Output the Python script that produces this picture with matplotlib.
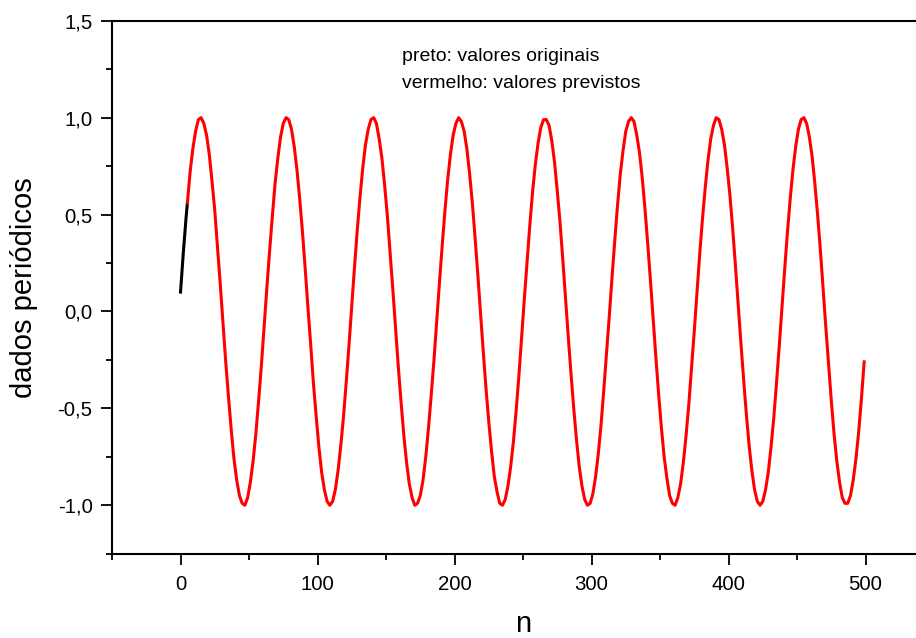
import numpy as np
import matplotlib
matplotlib.use('Agg')
import matplotlib.pyplot as plt
from matplotlib.ticker import MultipleLocator, FuncFormatter

plt.rcParams['font.family'] = ['Liberation Sans', 'DejaVu Sans']

# valores originais (preto)
n_orig = [0, 1, 2, 3, 4, 5]
y_orig = [0.10, 0.20, 0.30, 0.39, 0.48, 0.56]

# valores previstos (vermelho), lidos a cada 2 pontos de n
n_prev = list(range(5, 500, 2))
y_prev = [
    0.56, 0.72, 0.84, 0.93, 0.99, 1.00, 0.97, 0.91, 0.81, 0.67, 0.52, 0.33, 0.14, -0.06, -0.26,
    -0.44, -0.61, -0.76, -0.87, -0.95, -0.99, -1.00, -0.96, -0.88, -0.77, -0.63, -0.46, -0.28, -0.08,
    0.12, 0.31, 0.49, 0.66, 0.79, 0.90, 0.97, 1.00, 0.99, 0.94, 0.85, 0.73, 0.58, 0.41, 0.22, 0.02,
    -0.17, -0.37, -0.54, -0.70, -0.83, -0.92, -0.98, -1.00, -0.98, -0.92, -0.82, -0.69, -0.54, -0.36, -0.17,
    0.03, 0.23, 0.42, 0.59, 0.74, 0.86, 0.94, 0.99, 1.00, 0.97, 0.89, 0.79, 0.65, 0.49, 0.30, 0.11,
    -0.09, -0.29, -0.47, -0.64, -0.78, -0.89, -0.96, -1.00, -0.99, -0.95, -0.87, -0.75, -0.60, -0.43, -0.25, -0.05,
    0.15, 0.34, 0.52, 0.68, 0.81, 0.91, 0.97, 1.00, 0.98, 0.93, 0.84, 0.71, 0.56, 0.38, 0.19,
    -0.01, -0.21, -0.40, -0.57, -0.72, -0.85, -0.93, -0.99, -1.00, -0.97, -0.90, -0.80, -0.67, -0.51, -0.33, -0.13,
    0.07, 0.26, 0.45, 0.62, 0.76, 0.87, 0.95, 0.99, 0.99, 0.96, 0.88, 0.77, 0.62, 0.46, 0.27, 0.07,
    -0.13, -0.32, -0.50, -0.66, -0.80, -0.90, -0.97, -1.00, -0.99, -0.94, -0.85, -0.73, -0.58, -0.40, -0.21, -0.02,
    0.18, 0.37, 0.55, 0.71, 0.83, 0.93, 0.98, 1.00, 0.98, 0.91, 0.82, 0.69, 0.53, 0.35, 0.16,
    -0.04, -0.24, -0.43, -0.60, -0.75, -0.86, -0.95, -0.99, -1.00, -0.96, -0.89, -0.78, -0.64, -0.48, -0.29, -0.10,
    0.10, 0.30, 0.48, 0.64, 0.78, 0.89, 0.96, 1.00, 0.99, 0.94, 0.86, 0.74, 0.60, 0.43, 0.24,
    0.04, -0.16, -0.35, -0.53, -0.69, -0.82, -0.92, -0.98, -1.00, -0.98, -0.92, -0.83, -0.70, -0.55, -0.37, -0.18,
    0.02, 0.22, 0.41, 0.58, 0.73, 0.85, 0.94, 0.99, 1.00, 0.97, 0.90, 0.80, 0.66, 0.50, 0.32, 0.12,
    -0.08, -0.27, -0.46, -0.63, -0.77, -0.88, -0.96, -0.99, -0.99, -0.95, -0.87, -0.76, -0.62, -0.45, -0.26,
]

f = plt.figure(figsize=(9.16, 6.38), dpi=100)
ax = f.add_axes([0.1223, 0.1321, 0.8974, 0.8354])

ax.plot(n_orig, y_orig, '-', color='black', lw=2.2, solid_joinstyle='round')
ax.plot(n_prev, y_prev, '-', color='red', lw=2.2, solid_joinstyle='round')

ax.set_xlim(-50, 550)
ax.set_ylim(-1.25, 1.5)

ax.xaxis.set_major_locator(MultipleLocator(100))
ax.xaxis.set_minor_locator(MultipleLocator(50))
ax.yaxis.set_major_locator(MultipleLocator(0.5))
ax.yaxis.set_minor_locator(MultipleLocator(0.25))
ax.yaxis.set_major_formatter(FuncFormatter(lambda v, p: ('%.1f' % v).replace('.', ',')))

for s in ax.spines.values():
    s.set_linewidth(1.5)
ax.tick_params(which='major', direction='out', length=8, width=1.3, labelsize=14.7)
ax.tick_params(axis='x', which='major', pad=7)
ax.tick_params(axis='y', which='major', pad=6)
ax.tick_params(which='minor', direction='out', length=4.5, width=1.3)
ax.tick_params(top=False, right=False)

ax.set_xlabel('n', fontsize=21, labelpad=12)
ax.set_ylabel('dados periódicos', fontsize=21, labelpad=14)

ax.text(0.4385, 0.911, 'preto: valores originais', transform=f.transFigure, fontsize=14, va='center')
ax.text(0.4385, 0.8694, 'vermelho: valores previstos', transform=f.transFigure, fontsize=14, va='center')

f.savefig('out.png', dpi=100)
